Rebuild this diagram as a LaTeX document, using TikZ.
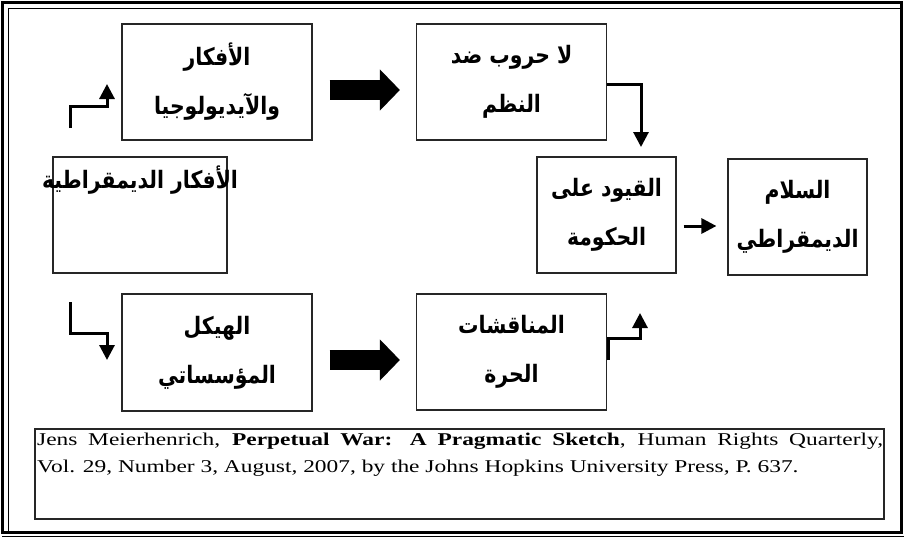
\documentclass[tikz,border=0pt]{standalone}
\usepackage{fontspec}
\setmainfont{Liberation Serif}
\newfontfamily\citefont[FakeStretch=1.30]{Liberation Serif}
\newfontfamily\arabicfont[Script=Arabic,FakeStretch=0.85]{DejaVu Sans}
\TeXXeTstate=1
\usetikzlibrary{arrows.meta,calc}
\tikzset{
  box/.style={draw=black!85, line width=1.2pt, inner sep=0pt},
  wide/.style={minimum width=190pt, minimum height=116pt},
  narrow/.style={minimum width=139pt, minimum height=116pt},
  ar/.style={font=\arabicfont\bfseries\fontsize{24}{49}\selectfont, align=center},
  bigarrow/.style={line width=20pt, -{Triangle[width=40pt,length=20pt]}},
  elbow/.style={line width=3pt, -{Triangle[width=15pt,length=15pt]}},
}
\begin{document}
\begin{tikzpicture}[x=1pt,y=-1pt]
\useasboundingbox (0,0) rectangle (904,538);
% frame
\draw[line width=3pt] (2.5,2.5) rectangle (901,532);
\draw[line width=1pt] (8,8) -- (899.5,8);
\draw[line width=1pt] (8,8) -- (8,530.5);
\draw[line width=1pt] (2,536) -- (904,536);
% boxes
\node[box, wide, ar] (A) at (217,82) {\beginR الأفكار\endR\\\beginR والآيديولوجيا\endR};
\node[box, wide, ar] (B) at (511.5,82) {\beginR لا حروب ضد\endR\\\beginR النظم\endR};
\node[box, minimum width=174pt, minimum height=116pt] (C) at (140,215) {};
\node[ar, inner sep=0pt] (Ct) at (140,180) {\beginR الأفكار الديمقراطية\endR};
\node[box, narrow, ar] (D) at (606.5,215) {\beginR القيود على\endR\\\beginR الحكومة\endR};
\node[box, narrow, ar] (E) at (797.5,217) {\beginR السلام\endR\\\beginR الديمقراطي\endR};
\node[box, wide, minimum height=117pt, ar] (F) at (217,352.5) {\beginR الهيكل\endR\\\beginR المؤسساتي\endR};
\node[box, wide, ar] (G) at (511.5,352) {\beginR المناقشات\endR\\\beginR الحرة\endR};
\node[box, minimum width=849pt, minimum height=90pt] (R) at (459.5,474) {};
\node[anchor=north west, inner sep=0pt, text width=846pt, align=justify,
      font=\citefont\fontsize{18}{27}\selectfont] (Rt) at (37,433)
  {Jens Meierhenrich, \textbf{Perpetual War: A Pragmatic Sketch}, Human Rights Quarterly,\linebreak
   Vol. 29, Number 3, August, 2007, by the Johns Hopkins University Press, P. 637.};
% big arrows
\draw[bigarrow] ([xshift=17pt,yshift=-8pt]A.east) -- ([xshift=-16pt,yshift=-8pt]B.west);
\draw[bigarrow] ([xshift=17pt,yshift=-7.5pt]F.east) -- ([xshift=-16pt,yshift=-8pt]G.west);
% elbow arrows
\coordinate (ca1) at (70,128);
\coordinate (ca2) at (107,84);
\draw[elbow] (ca1) -- ++(0,-22) -- ++(37,0) -- (ca2);
\coordinate (cf1) at (70,302);
\coordinate (cf2) at (107,360);
\draw[elbow] (cf1) -- ++(0,31) -- ++(37,0) -- (cf2);
\coordinate (bd) at (641,147);
\draw[elbow] ([yshift=-2pt]B.east) -| (bd);
\draw[elbow] ([xshift=7pt,yshift=-11pt]D.east) -- ([xshift=-11pt,yshift=-9pt]E.west);
\coordinate (g2) at (640,313);
\draw[elbow] ([xshift=1.5pt,yshift=-8pt]G.east) |- ($(g2)+(0,25)$) -- (g2);
\end{tikzpicture}
\end{document}
